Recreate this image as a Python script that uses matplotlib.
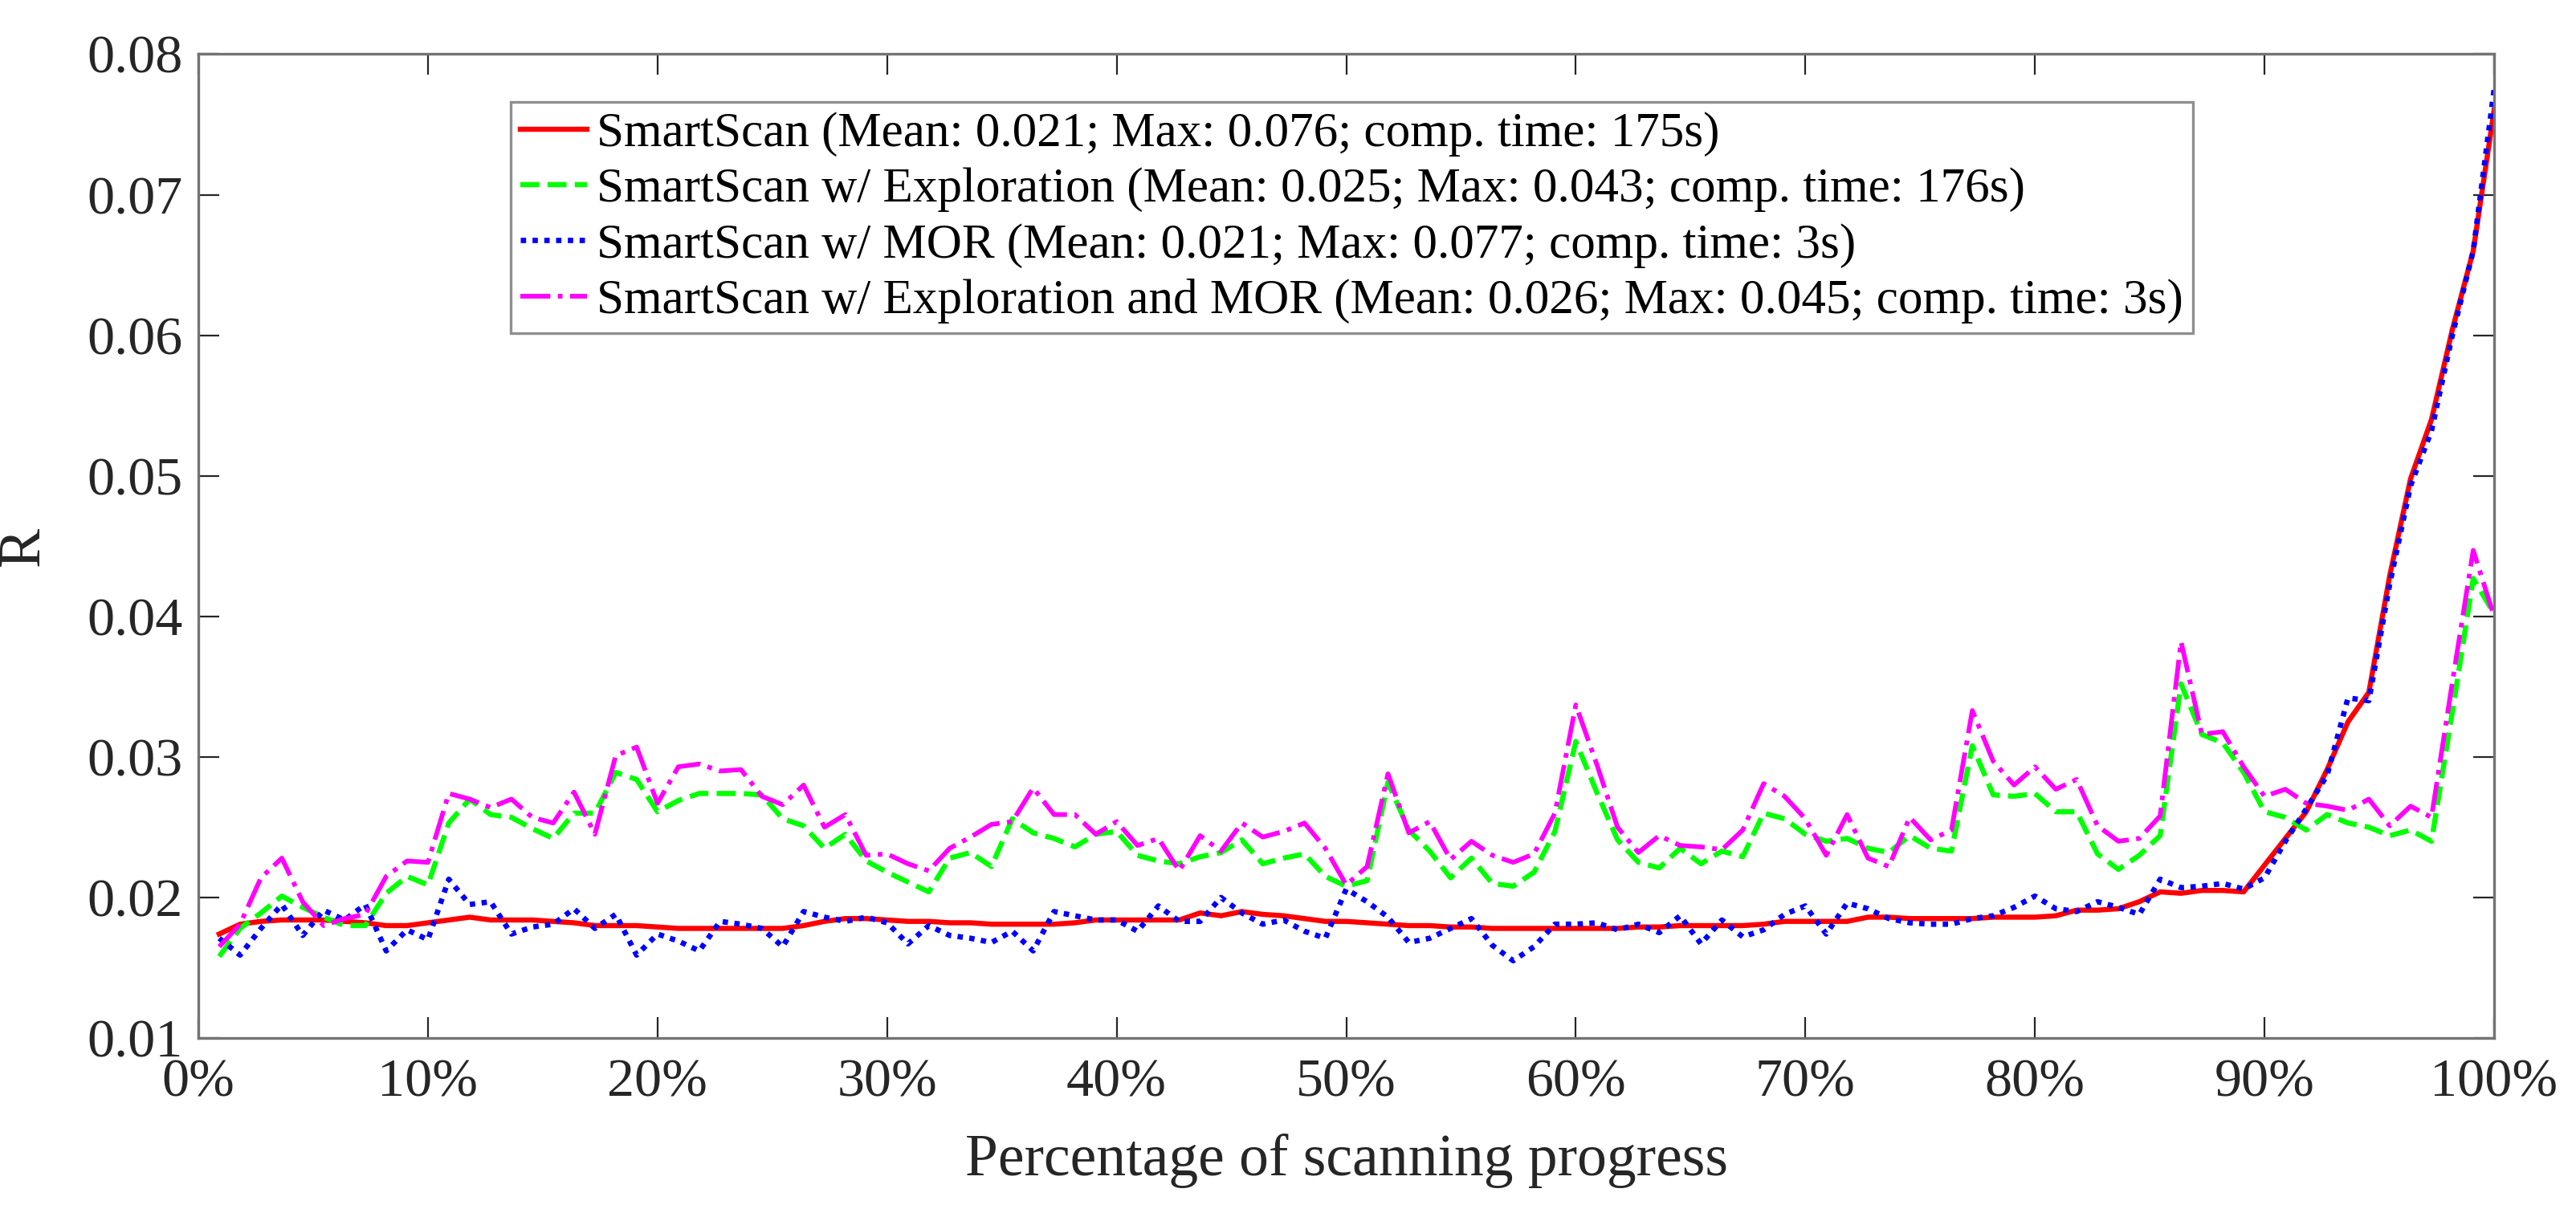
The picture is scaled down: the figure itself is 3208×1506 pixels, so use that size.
import numpy as np
import matplotlib
matplotlib.use("Agg")
import matplotlib.pyplot as plt
from matplotlib.ticker import FuncFormatter, MultipleLocator

serif = ['Liberation Serif', 'DejaVu Serif']
plt.rcParams['font.family'] = serif

# scanning progress, 110 steps
n_steps = 110
progress = np.arange(1, n_steps + 1) / n_steps

smartscan = [
    0.0174, 0.0181, 0.0183, 0.0184, 0.0184, 0.0184, 0.0183, 0.0182, 0.0180, 0.0180,
    0.0182, 0.0184, 0.0186, 0.0184, 0.0184, 0.0184, 0.0183, 0.0182, 0.0180, 0.0180,
    0.0180, 0.0179, 0.0178, 0.0178, 0.0178, 0.0178, 0.0178, 0.0178, 0.0180, 0.0183,
    0.0185, 0.0185, 0.0184, 0.0183, 0.0183, 0.0182, 0.0182, 0.0181, 0.0181, 0.0181,
    0.0181, 0.0182, 0.0184, 0.0184, 0.0184, 0.0184, 0.0184, 0.0189, 0.0187, 0.0190,
    0.0188, 0.0187, 0.0185, 0.0183, 0.0183, 0.0182, 0.0181, 0.0180, 0.0180, 0.0179,
    0.0179, 0.0178, 0.0178, 0.0178, 0.0178, 0.0178, 0.0178, 0.0178, 0.0179, 0.0179,
    0.0180, 0.0180, 0.0180, 0.0180, 0.0181, 0.0183, 0.0183, 0.0183, 0.0183, 0.0186,
    0.0186, 0.0185, 0.0185, 0.0185, 0.0185, 0.0186, 0.0186, 0.0186, 0.0187, 0.0191,
    0.0191, 0.0192, 0.0197, 0.0204, 0.0203, 0.0205, 0.0205, 0.0204, 0.0223, 0.0242,
    0.0261, 0.0291, 0.0325, 0.0346, 0.0429, 0.0498, 0.0540, 0.0604, 0.0660, 0.0760,
]

exploration = [
    0.0158, 0.0178, 0.0189, 0.0201, 0.0193, 0.0186, 0.0180, 0.0180, 0.0203, 0.0215,
    0.0209, 0.0253, 0.0270, 0.0259, 0.0257, 0.0249, 0.0242, 0.0260, 0.0260, 0.0289,
    0.0284, 0.0261, 0.0269, 0.0274, 0.0274, 0.0274, 0.0273, 0.0256, 0.0251, 0.0235,
    0.0245, 0.0226, 0.0218, 0.0211, 0.0204, 0.0228, 0.0232, 0.0222, 0.0256, 0.0246,
    0.0242, 0.0236, 0.0245, 0.0247, 0.0230, 0.0226, 0.0224, 0.0229, 0.0232, 0.0241,
    0.0224, 0.0228, 0.0231, 0.0215, 0.0208, 0.0212, 0.0282, 0.0248, 0.0233, 0.0214,
    0.0228, 0.0210, 0.0208, 0.0218, 0.0247, 0.0311, 0.0275, 0.0241, 0.0225, 0.0221,
    0.0235, 0.0224, 0.0233, 0.0229, 0.0260, 0.0256, 0.0245, 0.0240, 0.0242, 0.0235,
    0.0232, 0.0244, 0.0235, 0.0233, 0.0308, 0.0273, 0.0272, 0.0274, 0.0261, 0.0261,
    0.0231, 0.0220, 0.0230, 0.0244, 0.0352, 0.0316, 0.0310, 0.0289, 0.0261, 0.0257,
    0.0248, 0.0259, 0.0253, 0.0250, 0.0244, 0.0248, 0.0240, 0.0332, 0.0427, 0.0402,
]

mor = [
    0.0171, 0.0159, 0.0178, 0.0195, 0.0173, 0.0191, 0.0184, 0.0195, 0.0162, 0.0177,
    0.0170, 0.0213, 0.0195, 0.0197, 0.0174, 0.0179, 0.0181, 0.0192, 0.0178, 0.0188,
    0.0159, 0.0174, 0.0169, 0.0162, 0.0183, 0.0181, 0.0178, 0.0165, 0.0190, 0.0186,
    0.0183, 0.0186, 0.0182, 0.0167, 0.0180, 0.0173, 0.0171, 0.0168, 0.0176, 0.0162,
    0.0190, 0.0187, 0.0184, 0.0184, 0.0176, 0.0194, 0.0183, 0.0183, 0.0200, 0.0189,
    0.0181, 0.0184, 0.0176, 0.0171, 0.0206, 0.0197, 0.0186, 0.0168, 0.0171, 0.0178,
    0.0185, 0.0166, 0.0155, 0.0165, 0.0181, 0.0181, 0.0182, 0.0177, 0.0181, 0.0175,
    0.0187, 0.0167, 0.0184, 0.0172, 0.0177, 0.0188, 0.0194, 0.0174, 0.0196, 0.0192,
    0.0185, 0.0182, 0.0181, 0.0181, 0.0185, 0.0187, 0.0193, 0.0201, 0.0192, 0.0190,
    0.0197, 0.0193, 0.0188, 0.0213, 0.0207, 0.0208, 0.0210, 0.0206, 0.0214, 0.0240,
    0.0263, 0.0287, 0.0342, 0.0340, 0.0423, 0.0493, 0.0532, 0.0600, 0.0660, 0.0775,
]

exploration_mor = [
    0.0165, 0.0181, 0.0214, 0.0228, 0.0197, 0.0180, 0.0185, 0.0188, 0.0215, 0.0226,
    0.0225, 0.0274, 0.0270, 0.0264, 0.0270, 0.0257, 0.0253, 0.0275, 0.0245, 0.0301,
    0.0307, 0.0267, 0.0293, 0.0295, 0.0290, 0.0291, 0.0272, 0.0266, 0.0280, 0.0250,
    0.0259, 0.0230, 0.0231, 0.0224, 0.0219, 0.0235, 0.0243, 0.0252, 0.0254, 0.0278,
    0.0259, 0.0259, 0.0245, 0.0254, 0.0237, 0.0242, 0.0219, 0.0244, 0.0233, 0.0253,
    0.0243, 0.0247, 0.0253, 0.0235, 0.0209, 0.0222, 0.0288, 0.0246, 0.0254, 0.0227,
    0.0240, 0.0230, 0.0225, 0.0231, 0.0260, 0.0337, 0.0295, 0.0250, 0.0232, 0.0244,
    0.0237, 0.0236, 0.0234, 0.0248, 0.0281, 0.0272, 0.0256, 0.0230, 0.0259, 0.0228,
    0.0222, 0.0257, 0.0241, 0.0248, 0.0333, 0.0297, 0.0280, 0.0293, 0.0277, 0.0284,
    0.0251, 0.0240, 0.0242, 0.0258, 0.0382, 0.0316, 0.0318, 0.0293, 0.0272, 0.0277,
    0.0267, 0.0265, 0.0262, 0.0270, 0.0251, 0.0265, 0.0257, 0.0353, 0.0447, 0.0400,
]

labels = [
    "SmartScan (Mean: 0.021; Max: 0.076; comp. time: 175s)",
    "SmartScan w/ Exploration (Mean: 0.025; Max: 0.043; comp. time: 176s)",
    "SmartScan w/ MOR (Mean: 0.021; Max: 0.077; comp. time: 3s)",
    "SmartScan w/ Exploration and MOR (Mean: 0.026; Max: 0.045; comp. time: 3s)",
]

fig = plt.figure(figsize=(16.04, 7.53), dpi=200)
ax = fig.add_axes([0.077, 0.1414, 0.8912, 0.8138])

ax.plot(progress, smartscan, color=(1, 0, 0), linestyle='-', linewidth=2.3, label=labels[0])
ax.plot(progress, exploration, color=(0, 1, 0), linestyle='--', linewidth=2.3, label=labels[1])
ax.plot(progress, mor, color=(0, 0, 1), linestyle=(0, (1, 1.2)), linewidth=2.4, label=labels[2])
ax.plot(progress, exploration_mor, color=(1, 0, 1), linestyle='-.', linewidth=2.1, label=labels[3])

ax.set_xlim(0, 1)
ax.set_ylim(0.01, 0.08)
ax.xaxis.set_major_locator(MultipleLocator(0.1))
ax.yaxis.set_major_locator(MultipleLocator(0.01))
ax.xaxis.set_major_formatter(FuncFormatter(lambda v, p: "%d%%" % round(v * 100)))
ax.yaxis.set_major_formatter(FuncFormatter(lambda v, p: "%.2f" % v))

ax.tick_params(direction='in', length=9.5, width=0.8, colors='0.15',
               top=True, right=True, labelsize=24.5, labelfontfamily=serif)
ax.tick_params(axis='x', pad=9)
ax.tick_params(axis='y', pad=7)
for s in ax.spines.values():
    s.set_color('0.45')
    s.set_linewidth(1.2)

ax.set_xlabel("Percentage of scanning progress", fontsize=26.5, color='0.15', labelpad=12)
ax.set_ylabel("R", fontsize=26.5, color='0.15')
ax.yaxis.set_label_coords(-0.064, 0.5)

leg = ax.legend(loc='upper left', bbox_to_anchor=(0.1983, 0.9157),
                bbox_transform=fig.transFigure, fontsize=22, frameon=True,
                fancybox=False, borderaxespad=0, borderpad=0.2,
                handlelength=1.35, handletextpad=0.2, labelspacing=0.22)
leg.get_frame().set_edgecolor('0.45')
leg.get_frame().set_linewidth(1.2)

fig.savefig("out.png", dpi=200)
